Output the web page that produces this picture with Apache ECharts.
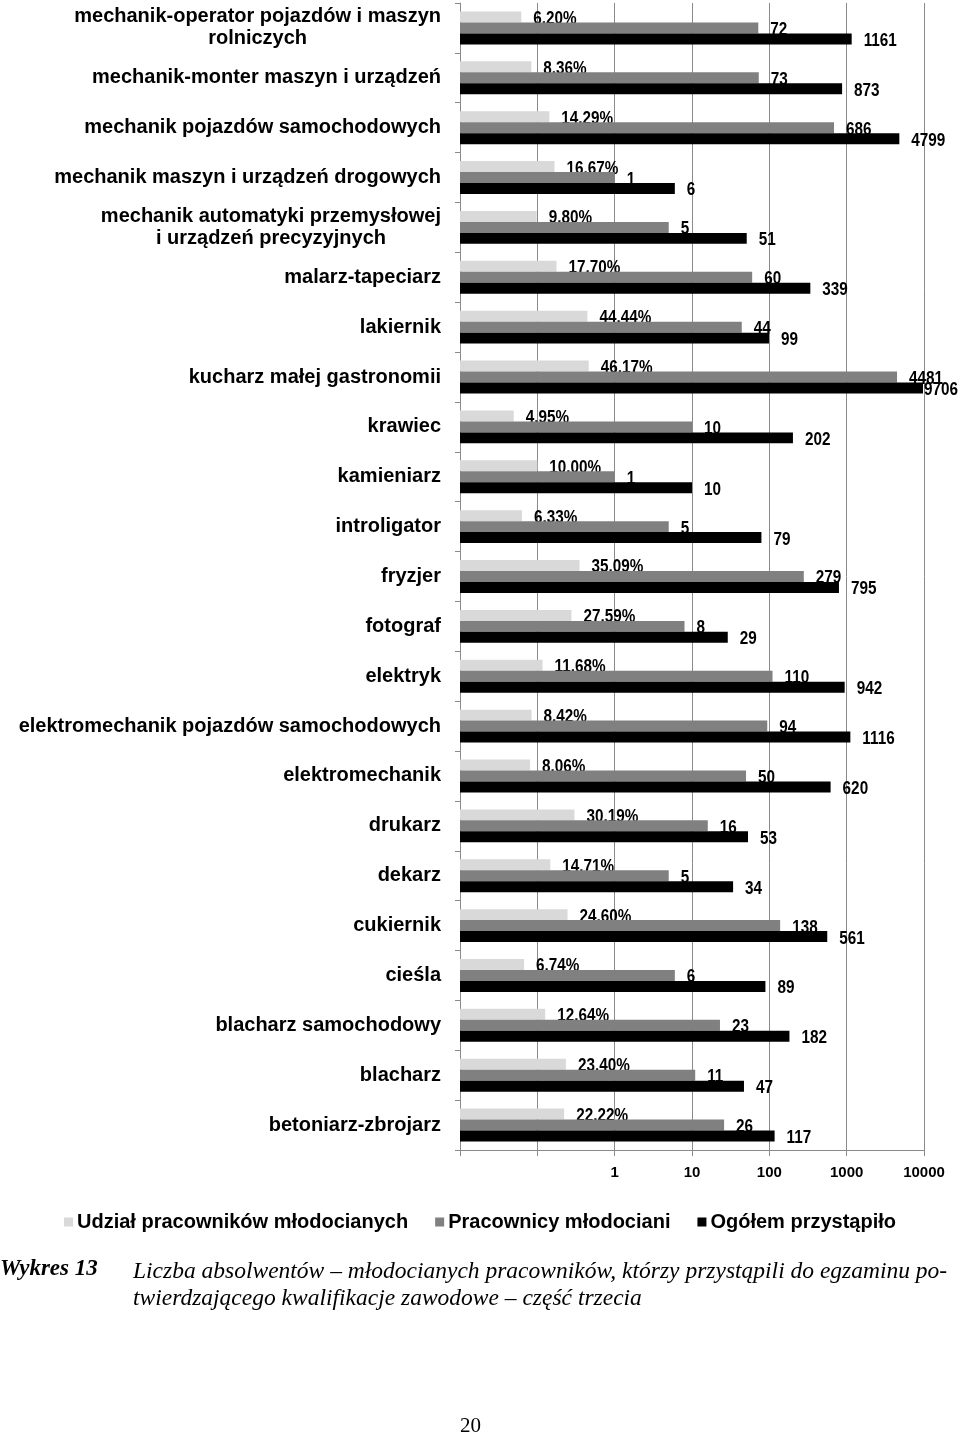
<!DOCTYPE html>
<html>
<head>
<meta charset="utf-8">
<script src="https://cdn.jsdelivr.net/npm/echarts@6/dist/echarts.min.js"></script>
<style>
html,body{margin:0;padding:0;background:#fff;}
#chart{width:960px;height:1438px;}
</style>
</head>
<body>
<div id="chart"></div>
<script>
var categories = [
  "mechanik-operator pojazdów i maszyn\nrolniczych",
  "mechanik-monter maszyn i urządzeń",
  "mechanik pojazdów samochodowych",
  "mechanik maszyn i urządzeń drogowych",
  "mechanik automatyki przemysłowej\ni urządzeń precyzyjnych",
  "malarz-tapeciarz",
  "lakiernik",
  "kucharz małej gastronomii",
  "krawiec",
  "kamieniarz",
  "introligator",
  "fryzjer",
  "fotograf",
  "elektryk",
  "elektromechanik pojazdów samochodowych",
  "elektromechanik",
  "drukarz",
  "dekarz",
  "cukiernik",
  "cieśla",
  "blacharz samochodowy",
  "blacharz",
  "betoniarz-zbrojarz"
];
var sharePercent = [6.20, 8.36, 14.29, 16.67, 9.80, 17.70, 44.44, 46.17, 4.95, 10.00, 6.33, 35.09, 27.59, 11.68, 8.42, 8.06, 30.19, 14.71, 24.60, 6.74, 12.64, 23.40, 22.22];
var juvenileWorkers = [72, 73, 686, 1, 5, 60, 44, 4481, 10, 1, 5, 279, 8, 110, 94, 50, 16, 5, 138, 6, 23, 11, 26];
var totalTaken = [1161, 873, 4799, 6, 51, 339, 99, 9706, 202, 10, 79, 795, 29, 942, 1116, 620, 53, 34, 561, 89, 182, 47, 117];
var seriesNames = ["Udział pracowników młodocianych", "Pracownicy młodociani", "Ogółem przystąpiło"];
var axisTickLabels = ["", "", "1", "10", "100", "1000", "10000"];
var axisMin = 0.01, axisMax = 10000;

var colors = ['#d9d9d9', '#808080', '#000000'];
var labelFont = 'bold 18px "Liberation Sans", sans-serif';
var labelScale = 0.85;
var pageRight = 958;

function makeRender(seriesIdx, labelFn) {
  return function (params, api) {
    var v = api.value(0);
    var cat = api.value(1);
    var start = api.coord([axisMin, cat]);
    var end = api.coord([v, cat]);
    var band = api.size([0, 1])[1];
    var barH = band * 0.66 / 3;
    var y0 = start[1] - barH * 1.5 + seriesIdx * barH;
    var txt = labelFn(params.dataIndex);
    var tw = echarts.format.getTextRect ? echarts.format.getTextRect(txt, labelFont).width * labelScale : txt.length * 9;
    var lx = end[0] + 12;
    var align = 'left';
    if (lx + tw > pageRight) { lx = pageRight; align = 'right'; }
    return {
      type: 'group',
      children: [
        {
          type: 'rect',
          shape: {x: start[0], y: y0, width: end[0] - start[0], height: barH},
          style: {fill: colors[seriesIdx]}
        },
        {
          type: 'text',
          x: lx,
          y: y0 + barH / 2 + 2,
          scaleX: labelScale,
          style: {text: txt, font: labelFont, fill: '#000', verticalAlign: 'middle', align: align}
        }
      ]
    };
  };
}

var chart = echarts.init(document.getElementById('chart'), null, {renderer: 'canvas'});

var option = {
  backgroundColor: '#fff',
  animation: false,
  grid: {left: 460, right: 36, top: 3, bottom: 288, containLabel: false},
  legend: {
    data: seriesNames,
    left: 'center',
    top: 1207,
    icon: 'rect',
    itemWidth: 9,
    itemHeight: 9,
    itemGap: 27,
    textStyle: {fontFamily: 'Liberation Sans', fontWeight: 'bold', fontSize: 20, color: '#000', padding: [0, 0, 0, -1]}
  },
  xAxis: {
    type: 'log',
    logBase: 10,
    min: axisMin,
    max: axisMax,
    splitNumber: 6,
    axisLine: {show: true, lineStyle: {color: '#8a8a8a', width: 1}},
    axisTick: {show: true, length: 6, lineStyle: {color: '#8a8a8a'}},
    splitLine: {show: true, lineStyle: {color: '#8a8a8a', width: 1}},
    axisLabel: {
      margin: 15,
      fontFamily: 'Liberation Sans',
      fontWeight: 'bold',
      fontSize: 15,
      color: '#000',
      formatter: function (v) {
        var e = Math.round(Math.log10(v));
        var idx = e + 2;
        return axisTickLabels[idx] !== undefined ? axisTickLabels[idx] : '';
      }
    }
  },
  yAxis: {
    type: 'category',
    inverse: true,
    data: categories,
    axisLine: {show: true, lineStyle: {color: '#8a8a8a', width: 1}},
    axisTick: {show: true, length: 5, alignWithLabel: false, lineStyle: {color: '#8a8a8a'}},
    splitLine: {show: false},
    axisLabel: {
      margin: 19,
      interval: 0,
      fontFamily: 'Liberation Sans',
      fontWeight: 'bold',
      fontSize: 20,
      color: '#000',
      formatter: function (v) {
        return v.split('\n').map(function (l) { return '{c|' + l + '}'; }).join('\n');
      },
      rich: {
        c: {align: 'center', fontFamily: 'Liberation Sans', fontWeight: 'bold', fontSize: 20, color: '#000', lineHeight: 22}
      }
    }
  },
  series: [
    {
      name: seriesNames[0],
      type: 'custom',
      itemStyle: {color: colors[0]},
      encode: {x: 0, y: 1},
      data: sharePercent.map(function (p, i) { return [p / 100, i]; }),
      renderItem: makeRender(0, function (i) { return sharePercent[i].toFixed(2).replace('.', ',') + '%'; })
    },
    {
      name: seriesNames[1],
      type: 'custom',
      itemStyle: {color: colors[1]},
      encode: {x: 0, y: 1},
      data: juvenileWorkers.map(function (v, i) { return [v, i]; }),
      renderItem: makeRender(1, function (i) { return String(juvenileWorkers[i]); })
    },
    {
      name: seriesNames[2],
      type: 'custom',
      itemStyle: {color: colors[2]},
      encode: {x: 0, y: 1},
      data: totalTaken.map(function (v, i) { return [v, i]; }),
      renderItem: makeRender(2, function (i) { return String(totalTaken[i]); })
    }
  ],
  graphic: [
    {
      type: 'text', left: 0, top: 1258,
      style: {text: 'Wykres 13', font: 'italic bold 23px "Liberation Serif"', fill: '#000'}
    },
    {
      type: 'text', left: 133, top: 1258,
      style: {
        text: 'Liczba absolwentów – młodocianych pracowników, którzy przystąpili do egzaminu po-\ntwierdzającego kwalifikacje zawodowe – część trzecia',
        font: 'italic 23.5px "Liberation Serif"', fill: '#000', lineHeight: 27
      }
    },
    {
      type: 'text', left: 460, top: 1416,
      style: {text: '20', font: '21px "Liberation Serif"', fill: '#000'}
    }
  ]
};
chart.setOption(option);
</script>
</body>
</html>
